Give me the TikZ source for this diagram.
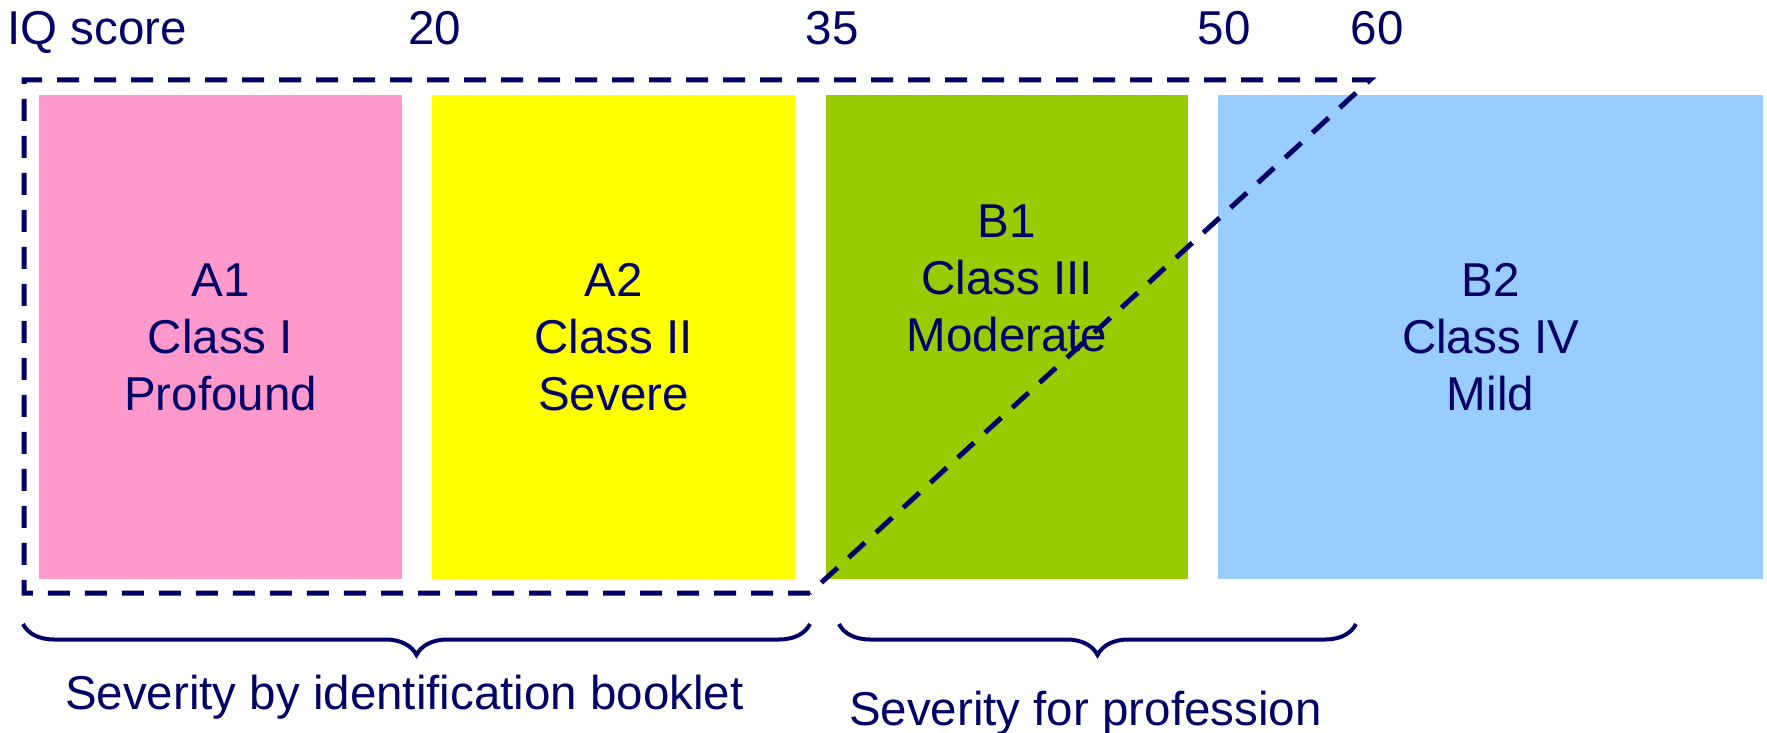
\documentclass[tikz,border=0pt]{standalone}
\usepackage{fontspec}
\setmainfont{Liberation Sans}
\usetikzlibrary{decorations.pathreplacing}
\definecolor{navy}{RGB}{0,0,102}
\definecolor{pinkc}{RGB}{255,153,204}
\definecolor{yellowc}{RGB}{255,255,0}
\definecolor{greenc}{RGB}{153,204,0}
\definecolor{bluec}{RGB}{153,204,255}
\begin{document}
\begin{tikzpicture}[x=1bp,y=-1bp,
  box/.style={draw=none, inner sep=0, outer sep=0, minimum height=484bp, anchor=north west},
  lbl/.style={text=navy, font=\fontsize{47.5bp}{57bp}\selectfont, inner sep=0, outer sep=0, align=center},
  dashline/.style={draw=navy, line width=5bp, dash pattern=on 22bp off 15bp, line join=miter},
  bracel/.style={draw=navy, line width=4bp, decorate, decoration={brace, amplitude=31bp, mirror}}]
\useasboundingbox (0,0) rectangle (1767,733);
% boxes
\node[box, fill=pinkc, minimum width=363bp] (a1box) at (39,95) {};
\node[box, fill=yellowc, minimum width=363bp] (a2box) at (432,95) {};
\node[box, fill=greenc, minimum width=362bp] (b1box) at (826,95) {};
\node[box, fill=bluec, minimum width=545bp] (b2box) at (1218,95) {};
% box labels
\node[lbl] (a1t) at (a1box.center) {A1\\Class I\\Profound};
\node[lbl] (a2t) at (a2box.center) {A2\\Class II\\Severe};
\node[lbl, yshift=58.5bp] (b1t) at (b1box.center) {B1\\Class III\\Moderate};
\node[lbl] (b2t) at (b2box.center) {B2\\Class IV\\Mild};
% scale labels
\node[lbl, anchor=base west] (iq) at (7.5,45) {IQ score};
\node[lbl, anchor=base] (n20) at (435,45) {20};
\node[lbl, anchor=base] (n35) at (832,45) {35};
\node[lbl, anchor=base] (n50) at (1224,45) {50};
\node[lbl, anchor=base] (n60) at (1377,45) {60};
% dashed outline
\coordinate (d1) at (810,593);
\coordinate (d2) at (24,593);
\coordinate (d3) at (24,80);
\coordinate (d4) at (1370,80);
\draw[dashline] (d1) -- (d2) -- (d3) -- (d4) -- cycle;
% braces
\coordinate (bl1) at (23,624);
\coordinate (bl2) at (810,624);
\coordinate (br1) at (839,624);
\coordinate (br2) at (1356,624);
\draw[bracel] (bl1) -- (bl2);
\draw[bracel] (br1) -- (br2);
% brace labels
\node[lbl, anchor=base west] (sev1) at (65,709) {Severity by identification booklet};
\node[lbl, anchor=base west] (sev2) at (849,725) {Severity for profession};
\end{tikzpicture}
\end{document}
